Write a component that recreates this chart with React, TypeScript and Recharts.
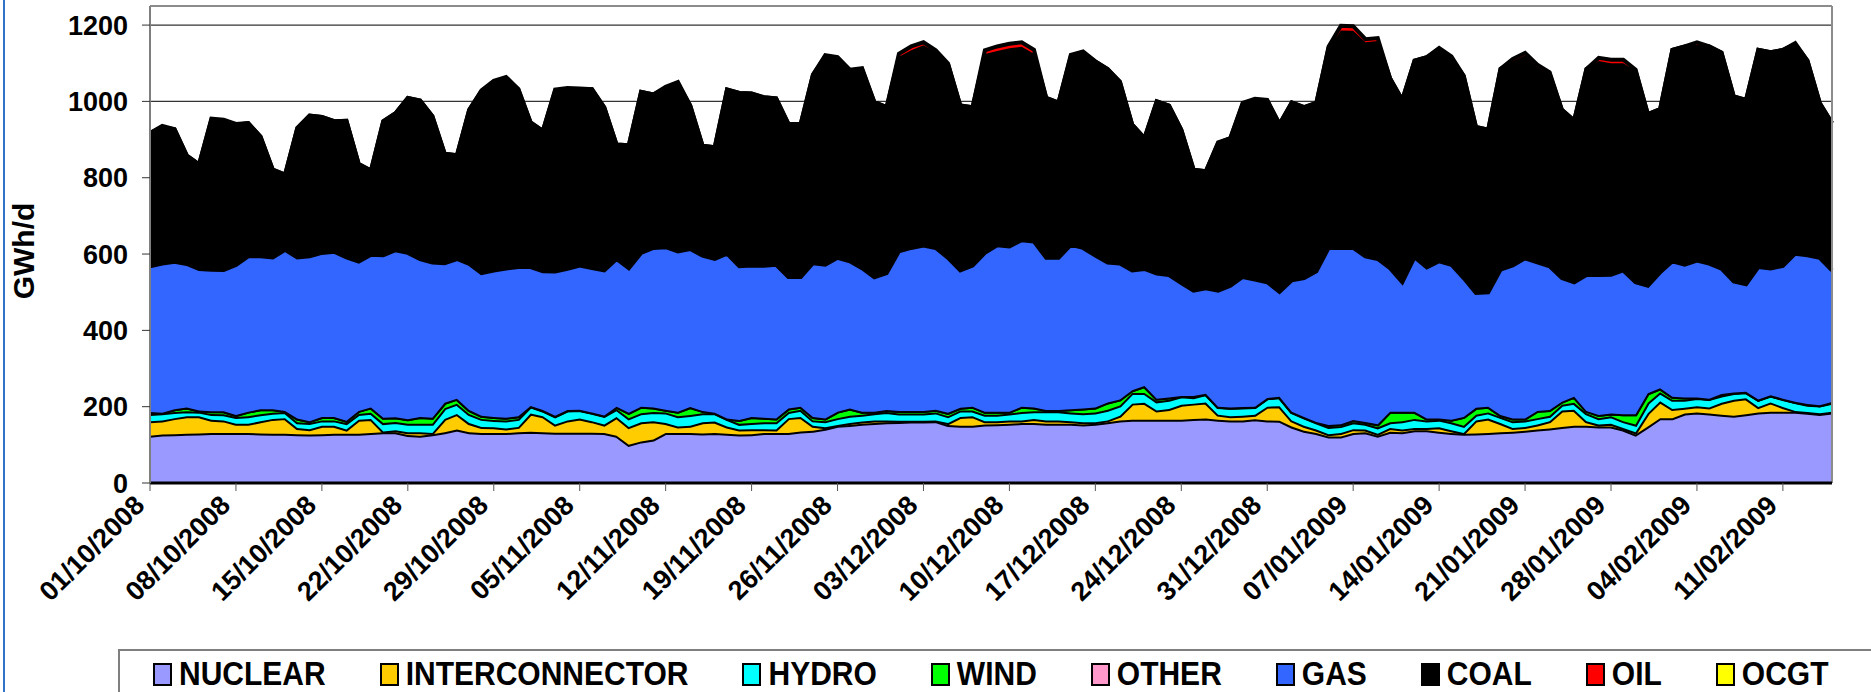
import { AreaChart, Area, XAxis, YAxis, CartesianGrid, ReferenceLine } from "recharts";

// daily generation by fuel, GWh/d, 01/10/2008 .. 15/02/2009
const NUCLEAR = [
  124, 127, 128, 129, 130, 131, 131, 131, 131, 130,
  129, 129, 128, 127, 128, 129, 129, 129, 131, 133,
  133, 126, 124, 128, 133, 140, 133, 131, 131, 131,
  133, 134, 133, 132, 132, 132, 132, 131, 124, 100,
  109, 114, 131, 131, 131, 130, 131, 129, 127, 128,
  131, 131, 131, 135, 137, 142, 150, 152, 155, 157,
  159, 160, 161, 161, 162, 152, 150, 150, 153, 154,
  155, 157, 157, 155, 155, 155, 153, 155, 159, 164,
  166, 166, 166, 166, 166, 168, 169, 166, 164, 164,
  167, 164, 163, 148, 137, 131, 122, 122, 131, 133,
  124, 134, 133, 138, 138, 134, 131, 129, 130, 131,
  133, 134, 137, 140, 143, 147, 150, 150, 148, 148,
  140, 127, 148, 170, 170, 182, 185, 182, 179, 176,
  180, 185, 187, 187, 187, 184, 181, 185,
];

const INTERCONNECTOR = [
  38, 37, 42, 46, 45, 35, 33, 24, 24, 32,
  39, 41, 16, 14, 22, 21, 11, 37, 37, 2,
  5, 7, 9, 3, 35, 41, 24, 16, 15, 12,
  14, 48, 42, 21, 32, 37, 30, 22, 49, 47,
  50, 48, 26, 17, 19, 29, 30, 19, 13, 13,
  10, 9, 39, 38, 13, 4, 2, 5, 6, 7,
  5, 3, 2, 2, 2, 5, 23, 25, 9, 8,
  9, 7, 11, 9, 9, 7, 6, 4, 5, 12,
  42, 44, 24, 28, 39, 40, 42, 13, 11, 12,
  12, 36, 38, 16, 13, 9, 6, 9, 10, 7,
  5, 10, 7, 6, 6, 12, 7, 2, 34, 38,
  24, 10, 10, 13, 19, 43, 42, 12, 5, 7,
  4, 6, 35, 44, 24, 15, 16, 16, 31, 42,
  42, 14, 24, 12, 2, 2, 2, 2,
];

const HYDRO = [
  19, 19, 16, 13, 12, 15, 16, 18, 20, 18,
  16, 16, 15, 16, 14, 14, 17, 15, 16, 22,
  22, 22, 22, 24, 28, 27, 24, 21, 19, 21,
  21, 19, 15, 22, 26, 22, 22, 23, 21, 23,
  24, 24, 28, 27, 28, 24, 22, 20, 15, 16,
  18, 19, 16, 19, 14, 16, 18, 19, 18, 19,
  22, 19, 19, 19, 21, 18, 17, 15, 17, 17,
  18, 22, 20, 24, 24, 23, 24, 26, 28, 27,
  28, 26, 24, 24, 22, 17, 22, 20, 22, 22,
  20, 22, 24, 22, 22, 19, 19, 18, 18, 15,
  17, 15, 22, 24, 20, 20, 21, 19, 15, 16,
  16, 18, 17, 17, 14, 15, 18, 21, 17, 20,
  18, 20, 27, 24, 24, 21, 22, 22, 19, 18,
  16, 19, 18, 21, 23, 19, 20, 23,
];

const WIND = [
  5, 1, 7, 10, 3, 7, 8, 5, 12, 13,
  9, 3, 10, 5, 9, 9, 6, 8, 14, 14,
  12, 12, 18, 16, 14, 13, 10, 8, 8, 7,
  7, 1, 1, 1, 1, 1, 1, 1, 6, 14,
  17, 12, 7, 12, 21, 6, 1, 1, 10, 16,
  12, 10, 9, 8, 9, 7, 17, 19, 8, 4,
  5, 7, 7, 7, 7, 9, 7, 10, 8, 8,
  5, 14, 10, 3, 3, 8, 12, 13, 19, 16,
  7, 18, 7, 6, 1, 3, 1, 1, 1, 1,
  1, 1, 1, 1, 1, 1, 5, 5, 6, 5,
  8, 28, 25, 19, 5, 3, 7, 23, 18, 15,
  5, 7, 5, 19, 15, 8, 16, 6, 8, 7,
  18, 27, 25, 10, 8, 6, 1, 1, 4, 1,
  1, 1, 1, 1, 1, 2, 1, 2,
];

const OTHER = [
  0, 0, 0, 0, 0, 0, 0, 0, 0, 0, 0, 0, 0, 0, 0, 0, 0, 0, 0, 0,
  0, 0, 0, 0, 0, 0, 0, 0, 0, 0, 0, 0, 0, 0, 0, 0, 0, 0, 0, 0,
  0, 0, 0, 0, 0, 0, 0, 0, 0, 0, 0, 0, 0, 0, 0, 0, 0, 0, 0, 0,
  0, 0, 0, 0, 0, 0, 0, 0, 0, 0, 0, 0, 0, 0, 0, 0, 0, 0, 0, 0,
  0, 0, 0, 0, 0, 0, 0, 0, 0, 0, 0, 0, 0, 0, 0, 0, 0, 0, 0, 0,
  0, 0, 0, 0, 0, 0, 0, 0, 0, 0, 0, 0, 0, 0, 0, 0, 0, 0, 0, 0,
  0, 0, 0, 0, 0, 0, 0, 0, 0, 0, 0, 0, 0, 0, 0, 0, 0, 0,
];

const GAS = [
  382, 391, 387, 376, 371, 371, 370, 393, 407, 401,
  398, 422, 422, 432, 430, 433, 428, 391, 400, 426,
  438, 436, 414, 407, 366, 366, 383, 374, 384, 391,
  391, 364, 364, 378, 370, 378, 378, 380, 387, 379,
  403, 418, 426, 420, 414, 407, 403, 432, 403, 397,
  398, 403, 345, 340, 403, 403, 403, 386, 376, 352,
  359, 418, 427, 433, 424, 406, 360, 370, 416, 436,
  433, 436, 435, 399, 399, 431, 421, 398, 367, 356,
  314, 307, 328, 321, 296, 276, 276, 304, 319, 341,
  333, 303, 275, 344, 364, 395, 464, 462, 451, 434,
  433, 376, 339, 405, 396, 412, 406, 364, 301, 300,
  381, 401, 420, 389, 377, 324, 300, 356, 367, 364,
  377, 346, 282, 304, 355, 348, 359, 354, 329, 291,
  282, 347, 332, 348, 388, 390, 386, 345,
];

const COAL = [
  349, 358, 347, 284, 274, 393, 391, 368, 349, 314,
  230, 197, 339, 369, 356, 342, 358, 256, 221, 351,
  359, 406, 415, 383, 287, 272, 404, 477, 494, 499,
  466, 379, 368, 474, 470, 462, 469, 427, 300, 322,
  422, 402, 417, 440, 376, 288, 293, 430, 454, 451,
  442, 436, 401, 401, 494, 546, 524, 499, 521, 459,
  435, 510, 518, 525, 514, 507, 432, 415, 521, 509,
  519, 507, 492, 419, 407, 494, 511, 509, 507, 475,
  382, 343, 451, 444, 402, 317, 307, 387, 387, 453,
  470, 475, 440, 466, 448, 441, 525, 570, 569, 561,
  571, 498, 478, 515, 551, 555, 542, 530, 435, 426,
  526, 536, 532, 513, 504, 441, 424, 540, 561, 554,
  543, 554, 450, 428, 554, 572, 566, 569, 566, 485,
  483, 569, 567, 566, 549, 510, 406, 386,
];

const OIL = [
  0, 3, 0, 0, 0, 3, 3, 2, 0, 0,
  0, 0, 0, 0, 0, 0, 0, 0, 0, 0,
  0, 0, 0, 0, 0, 0, 0, 2, 3, 3,
  0, 0, 0, 3, 4, 2, 0, 0, 0, 0,
  0, 0, 3, 4, 0, 0, 0, 0, 0, 0,
  0, 0, 0, 0, 0, 3, 2, 3, 3, 0,
  0, 8, 10, 8, 4, 2, 0, 0, 10, 12,
  12, 12, 10, 0, 0, 4, 4, 0, 0, 2,
  0, 0, 0, 0, 0, 0, 0, 2, 0, 3,
  4, 3, 0, 0, 0, 0, 3, 12, 12, 8,
  8, 0, 0, 0, 0, 4, 4, 0, 0, 0,
  0, 5, 6, 5, 4, 0, 0, 0, 8, 9,
  9, 3, 0, 0, 0, 0, 6, 0, 0, 0,
  0, 0, 0, 0, 3, 0, 0, 0,
];

const OCGT = [
  0, 0, 0, 0, 0, 0, 0, 0, 0, 0, 0, 0, 0, 0, 0, 0, 0, 0, 0, 0,
  0, 0, 0, 0, 0, 0, 0, 0, 0, 0, 0, 0, 0, 0, 0, 0, 0, 0, 0, 0,
  0, 0, 0, 0, 0, 0, 0, 0, 0, 0, 0, 0, 0, 0, 0, 0, 0, 0, 0, 0,
  0, 0, 0, 0, 0, 0, 0, 0, 0, 0, 0, 0, 0, 0, 0, 0, 0, 0, 0, 0,
  0, 0, 0, 0, 0, 0, 0, 0, 0, 0, 0, 0, 0, 0, 0, 0, 0, 0, 0, 0,
  0, 0, 0, 0, 0, 0, 0, 0, 0, 0, 0, 0, 0, 0, 0, 0, 0, 0, 0, 0,
  0, 0, 0, 0, 0, 0, 0, 0, 0, 0, 0, 0, 0, 0, 0, 0, 0, 0,
];

// weekly ticks (day index from 01/10/2008)
const TICK_DAYS = [0, 7, 14, 21, 28, 35, 42, 49, 56, 63, 70, 77, 84, 91, 98, 105, 112, 119, 126, 133];
const TICK_LABELS = [
  "01/10/2008", "08/10/2008", "15/10/2008", "22/10/2008", "29/10/2008",
  "05/11/2008", "12/11/2008", "19/11/2008", "26/11/2008", "03/12/2008",
  "10/12/2008", "17/12/2008", "24/12/2008", "31/12/2008", "07/01/2009",
  "14/01/2009", "21/01/2009", "28/01/2009", "04/02/2009", "11/02/2009",
];
const Y_TICKS = [0, 200, 400, 600, 800, 1000, 1200];
const LAST_DAY = NUCLEAR.length - 1;

const FONT = "'Liberation Sans', Arial, sans-serif";

const SERIES = [
  { key: "nuclear", name: "NUCLEAR", color: "#9999ff", values: NUCLEAR },
  { key: "interconnector", name: "INTERCONNECTOR", color: "#ffcc00", values: INTERCONNECTOR },
  { key: "hydro", name: "HYDRO", color: "#00ffff", values: HYDRO },
  { key: "wind", name: "WIND", color: "#00ff00", values: WIND },
  { key: "other", name: "OTHER", color: "#ff99cc", values: OTHER },
  { key: "gas", name: "GAS", color: "#3366ff", values: GAS },
  { key: "coal", name: "COAL", color: "#000000", values: COAL },
  { key: "oil", name: "OIL", color: "#ff0000", values: OIL },
  { key: "ocgt", name: "OCGT", color: "#ffff00", values: OCGT },
];

const rows = NUCLEAR.map((_, day) => {
  const row: Record<string, number> = { day };
  SERIES.forEach((s) => {
    row[s.key] = s.values[day];
  });
  return row;
});

const DateTick = ({ x, y, payload }: any) => {
  const label = TICK_LABELS[TICK_DAYS.indexOf(payload.value)];
  return (
    <g transform={`translate(${x - 4},${y + 14})`}>
      <text
        textAnchor="end"
        transform="rotate(-45)"
        fontSize={27}
        fontWeight="bold"
        fontFamily={FONT}
        fill="#000"
      >
        {label}
      </text>
    </g>
  );
};

const YLabel = () => (
  <text
    x={34}
    y={251}
    transform="rotate(-90 34 251)"
    textAnchor="middle"
    fontSize={30}
    fontWeight="bold"
    fontFamily={FONT}
    fill="#000"
  >
    GWh/d
  </text>
);

export default function App() {
  return (
    <div style={{ position: "relative", width: 1871, height: 692, background: "#fff", overflow: "hidden" }}>
      <style>{"body{margin:0}"}</style>
      <div style={{ position: "absolute", left: 3, top: 0, width: 2, height: 692, background: "#2f74c8" }} />
      <AreaChart width={1871} height={650} data={rows} margin={{ top: 6, right: 39, left: 0, bottom: 0 }}>
        <CartesianGrid vertical={false} stroke="#333" strokeWidth={1.2} />
        <XAxis
          type="number"
          dataKey="day"
          domain={[0, LAST_DAY]}
          ticks={TICK_DAYS}
          interval={0}
          height={167}
          tickSize={8}
          tickMargin={2}
          axisLine={{ stroke: "#000", strokeWidth: 3 }}
          tickLine={{ stroke: "#555" }}
          tick={<DateTick />}
        />
        <YAxis
          type="number"
          domain={[0, 1250]}
          ticks={Y_TICKS}
          interval={0}
          width={150}
          tickSize={8}
          tickMargin={14}
          axisLine={{ stroke: "#7f7f7f", strokeWidth: 2 }}
          tickLine={{ stroke: "#333" }}
          tick={{ fontSize: 27, fontWeight: "bold", fill: "#000", fontFamily: FONT }}
          label={<YLabel />}
        />
        {SERIES.map((s) => (
          <Area
            key={s.key}
            type="linear"
            dataKey={s.key}
            name={s.name}
            stackId="fuel"
            fill={s.color}
            fillOpacity={1}
            stroke="#000"
            strokeWidth={s.key === "ocgt" ? 2 : 4}
            dot={false}
            activeDot={false}
            isAnimationActive={false}
          />
        ))}
        <ReferenceLine y={1250} stroke="#8c8c8c" strokeWidth={2} />
        <ReferenceLine x={LAST_DAY} stroke="#8c8c8c" strokeWidth={2} />
      </AreaChart>
      <div
        style={{
          position: "absolute",
          left: 118,
          top: 649,
          width: 1800,
          height: 80,
          borderTop: "2px solid #7f7f7f",
          borderLeft: "2px solid #7f7f7f",
          boxSizing: "border-box",
          display: "flex",
          alignItems: "flex-start",
          paddingLeft: 33,
          paddingTop: 10,
          fontFamily: FONT,
        }}
      >
        {SERIES.map((s) => (
          <div key={s.key} style={{ display: "flex", alignItems: "center", marginRight: 54 }}>
            <div
              style={{
                width: 19,
                height: 23,
                boxSizing: "border-box",
                border: "2px solid #000",
                background: s.color,
                marginRight: 7,
              }}
            />
            <span
              style={{
                fontSize: 30,
                fontWeight: "bold",
                lineHeight: "26px",
                display: "inline-block",
                transform: "scaleY(1.12)",
                whiteSpace: "nowrap",
              }}
            >
              {s.name}
            </span>
          </div>
        ))}
      </div>
    </div>
  );
}
